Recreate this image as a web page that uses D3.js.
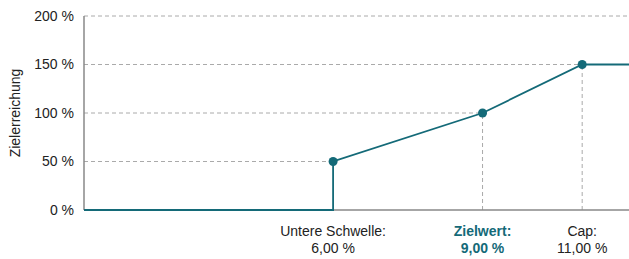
<!DOCTYPE html>
<html>
<head>
<meta charset="utf-8">
<script src="https://cdn.jsdelivr.net/npm/d3@7"></script>
<style>
  body { margin: 0; background: #fff; }
  svg { font-family: "Liberation Sans", Arial, sans-serif; }
</style>
</head>
<body>
<svg id="chart" width="629" height="259"></svg>
<script>
// kennlinie: zielerreichung je kennzahlwert
var xValues = [1, 6, 6, 9, 11, 12];
var yValues = [0, 0, 50, 100, 150, 150];
var markerX = [6, 9, 11];
var markerY = [50, 100, 150];
var markerNames = ["Untere Schwelle:", "Zielwert:", "Cap:"];
var markerLabels = ["6,00 %", "9,00 %", "11,00 %"];
var yTicks = [0, 50, 100, 150, 200];

var teal = "#146a78";
var grid = "#aaa";

var svg = d3.select("#chart");
var x = d3.scaleLinear().domain([1, 12]).range([84, 632]);
var y = d3.scaleLinear().domain([0, 200]).range([210, 16]);

var fmt = function(d) { return d + " %"; };

// horizontale hilfslinien
svg.append("g").selectAll("line")
  .data(yTicks.slice(1))
  .enter().append("line")
  .attr("x1", x(1))
  .attr("x2", function(d) {
    var i = markerY.indexOf(d);
    return i < 0 ? x(12) : x(markerX[i]);
  })
  .attr("y1", function(d) { return y(d); })
  .attr("y2", function(d) { return y(d); })
  .attr("stroke", grid)
  .attr("stroke-dasharray", "4,3");

// vertikale hilfslinien (ohne untere schwelle)
svg.append("g").selectAll("line")
  .data(markerX.slice(1))
  .enter().append("line")
  .attr("x1", function(d) { return x(d); })
  .attr("x2", function(d) { return x(d); })
  .attr("y1", y(0))
  .attr("y2", function(d, i) { return y(markerY[i + 1]); })
  .attr("stroke", grid)
  .attr("stroke-dasharray", "4,3");

// achsen
svg.append("line")
  .attr("x1", x(1)).attr("x2", x(1))
  .attr("y1", y(200)).attr("y2", y(0))
  .attr("stroke", "#888").attr("stroke-width", 1.5);
svg.append("line")
  .attr("x1", x(1)).attr("x2", x(12))
  .attr("y1", y(0)).attr("y2", y(0))
  .attr("stroke", "#888").attr("stroke-width", 1.5);

var yAxis = d3.axisLeft(y).tickValues(yTicks).tickFormat(fmt).tickSize(0).tickPadding(10);
var ya = svg.append("g").attr("transform", "translate(" + x(1) + ",0)").call(yAxis);
ya.select(".domain").remove();
ya.selectAll("text")
  .attr("font-family", "Liberation Sans, Arial, sans-serif")
  .attr("font-size", 14)
  .attr("fill", "#222");

svg.append("text")
  .attr("transform", "translate(20," + y(100) + ") rotate(-90)")
  .attr("text-anchor", "middle")
  .attr("font-size", 14)
  .attr("fill", "#222")
  .text("Zielerreichung");

// kennlinie
var line = d3.line()
  .x(function(d, i) { return x(xValues[i]); })
  .y(function(d, i) { return y(yValues[i]); });

svg.append("path")
  .datum(xValues)
  .attr("d", line)
  .attr("fill", "none")
  .attr("stroke", teal)
  .attr("stroke-width", 1.8);

svg.append("g").selectAll("circle")
  .data(markerX)
  .enter().append("circle")
  .attr("cx", function(d) { return x(d); })
  .attr("cy", function(d, i) { return y(markerY[i]); })
  .attr("r", 4.5)
  .attr("fill", teal);

// beschriftungen unten
var lab = svg.append("g").selectAll("text")
  .data(markerX)
  .enter().append("text")
  .attr("text-anchor", "middle")
  .attr("font-size", 14)
  .attr("fill", function(d, i) { return i == 1 ? teal : "#222"; })
  .attr("font-weight", function(d, i) { return i == 1 ? "bold" : "normal"; });

lab.append("tspan")
  .attr("x", function(d) { return x(d); })
  .attr("y", 236)
  .text(function(d, i) { return markerNames[i]; });
lab.append("tspan")
  .attr("x", function(d) { return x(d); })
  .attr("y", 253)
  .text(function(d, i) { return markerLabels[i]; });
</script>
</body>
</html>
